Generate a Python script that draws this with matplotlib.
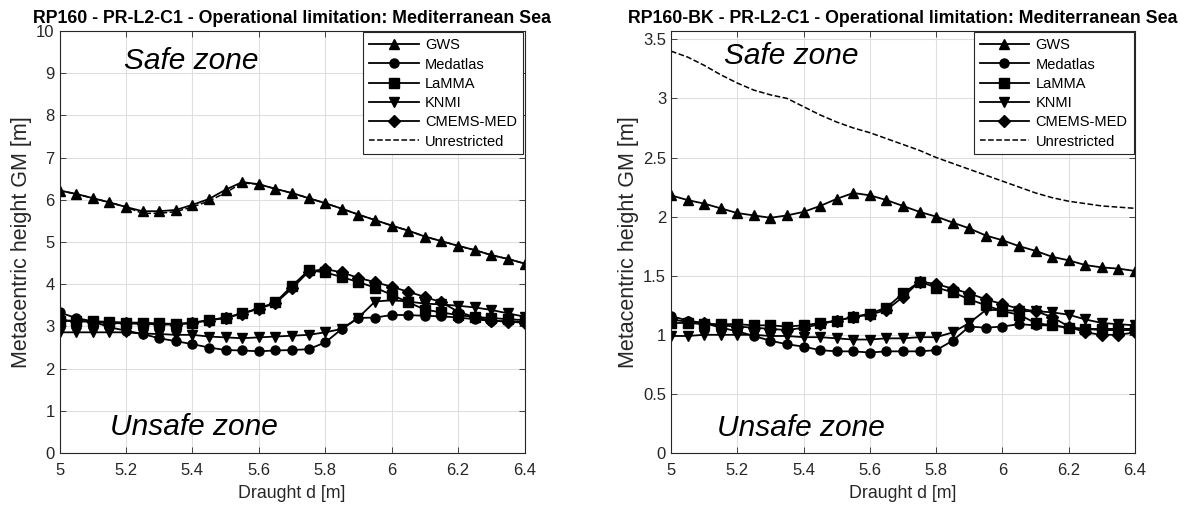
import matplotlib
matplotlib.use("Agg")
import matplotlib.pyplot as plt

plt.rcParams['font.family'] = ['Liberation Sans', 'DejaVu Sans']

# Calado (m), igual para todas las series
draught = [5.00, 5.05, 5.10, 5.15, 5.20, 5.25, 5.30, 5.35, 5.40, 5.45,
           5.50, 5.55, 5.60, 5.65, 5.70, 5.75, 5.80, 5.85, 5.90, 5.95,
           6.00, 6.05, 6.10, 6.15, 6.20, 6.25, 6.30, 6.35, 6.40]

# ---- RP160 (izquierda) ----
gws_a = [6.22, 6.14, 6.04, 5.94, 5.83, 5.73, 5.73, 5.76, 5.88, 6.02,
         6.24, 6.42, 6.37, 6.26, 6.16, 6.04, 5.92, 5.79, 5.65, 5.52,
         5.39, 5.27, 5.13, 5.02, 4.91, 4.81, 4.69, 4.60, 4.49]
medatlas_a = [3.33, 3.20, 3.12, 2.98, 2.90, 2.82, 2.72, 2.65, 2.58, 2.50,
              2.44, 2.43, 2.41, 2.43, 2.44, 2.46, 2.62, 2.94, 3.20, 3.21,
              3.27, 3.27, 3.25, 3.24, 3.21, 3.17, 3.13, 3.12, 3.11]
lamma_a = [3.13, 3.13, 3.12, 3.11, 3.09, 3.09, 3.07, 3.06, 3.09, 3.15,
           3.21, 3.31, 3.43, 3.57, 3.96, 4.33, 4.28, 4.17, 4.05, 3.92,
           3.75, 3.57, 3.40, 3.33, 3.27, 3.22, 3.20, 3.17, 3.15]
knmi_a = [2.86, 2.86, 2.86, 2.86, 2.86, 2.83, 2.82, 2.80, 2.80, 2.76,
          2.74, 2.72, 2.74, 2.76, 2.78, 2.80, 2.86, 2.94, 3.21, 3.59,
          3.62, 3.59, 3.54, 3.52, 3.49, 3.45, 3.39, 3.31, 3.23]
cmems_a = [3.15, 3.13, 3.10, 3.08, 3.07, 3.06, 3.05, 3.04, 3.08, 3.14,
           3.20, 3.30, 3.42, 3.55, 3.90, 4.30, 4.36, 4.28, 4.15, 4.05,
           3.94, 3.82, 3.70, 3.57, 3.35, 3.22, 3.14, 3.11, 3.09]
unrestr_a = [6.22, 6.14, 6.04, 5.94, 5.83, 5.68, 5.68, 5.72, 5.83, 5.97,
             6.17, 6.40, 6.37, 6.26, 6.16, 6.04, 5.92, 5.79, 5.65, 5.52,
             5.39, 5.27, 5.13, 5.02, 4.91, 4.81, 4.69, 4.60, 4.49]

# ---- RP160-BK (derecha) ----
gws_b = [2.18, 2.14, 2.11, 2.07, 2.03, 2.01, 1.99, 2.01, 2.04, 2.09,
         2.15, 2.20, 2.18, 2.14, 2.09, 2.04, 2.00, 1.95, 1.90, 1.84,
         1.80, 1.75, 1.71, 1.66, 1.63, 1.59, 1.57, 1.56, 1.54]
medatlas_b = [1.16, 1.12, 1.10, 1.06, 1.03, 0.99, 0.95, 0.92, 0.90, 0.87,
              0.86, 0.86, 0.85, 0.86, 0.86, 0.86, 0.87, 0.95, 1.07, 1.06,
              1.07, 1.09, 1.08, 1.08, 1.06, 1.05, 1.04, 1.04, 1.04]
lamma_b = [1.10, 1.10, 1.09, 1.09, 1.09, 1.08, 1.08, 1.07, 1.08, 1.10,
           1.12, 1.15, 1.18, 1.23, 1.35, 1.45, 1.40, 1.36, 1.30, 1.25,
           1.20, 1.17, 1.10, 1.08, 1.06, 1.05, 1.05, 1.05, 1.05]
knmi_b = [0.99, 0.99, 1.00, 1.00, 1.00, 1.00, 0.99, 0.99, 0.98, 0.98,
          0.97, 0.96, 0.96, 0.97, 0.97, 0.98, 0.98, 1.02, 1.10, 1.21,
          1.21, 1.20, 1.20, 1.19, 1.17, 1.13, 1.10, 1.09, 1.08]
cmems_b = [1.13, 1.11, 1.10, 1.08, 1.07, 1.06, 1.05, 1.04, 1.06, 1.09,
           1.12, 1.15, 1.17, 1.21, 1.32, 1.45, 1.43, 1.39, 1.35, 1.30,
           1.26, 1.22, 1.20, 1.15, 1.07, 1.02, 1.00, 1.00, 1.02]
unrestr_b = [3.40, 3.35, 3.28, 3.20, 3.13, 3.07, 3.03, 3.00, 2.93, 2.86,
             2.80, 2.75, 2.71, 2.66, 2.61, 2.56, 2.50, 2.45, 2.40, 2.35,
             2.30, 2.25, 2.20, 2.16, 2.13, 2.11, 2.09, 2.08, 2.07]

nombres = ["GWS", "Medatlas", "LaMMA", "KNMI", "CMEMS-MED", "Unrestricted"]
marcadores = ["^", "o", "s", "v", "D", None]


def dibujar(ax, series, titulo, ymax, yticks, ytlabels, safe_xy, unsafe_xy):
    for serie, nombre, mk in zip(series, nombres, marcadores):
        if mk is None:
            ax.plot(draught, serie, "k--", lw=1.1, label=nombre)
        else:
            ms = 7.2 if mk in ("^", "v") else (5.8 if mk == "D" else 6.5)
            ax.plot(draught, serie, color="k", lw=1.3, marker=mk, ms=ms,
                    label=nombre)
    ax.set_xlim(5, 6.4)
    ax.set_ylim(0, ymax)
    ax.set_xticks([5, 5.2, 5.4, 5.6, 5.8, 6, 6.2, 6.4])
    ax.set_xticklabels(["5", "5.2", "5.4", "5.6", "5.8", "6", "6.2", "6.4"])
    ax.set_yticks(yticks)
    ax.set_yticklabels(ytlabels)
    ax.grid(True, color="#dfdfdf", lw=0.8)
    ax.set_axisbelow(True)
    ax.tick_params(direction="in", top=True, right=True, labelsize=12,
                   colors="#262626", length=4, width=0.6)
    ax.tick_params(axis="x", pad=7)
    for s in ax.spines.values():
        s.set_color("#262626")
        s.set_linewidth(0.8)
    ax.set_title(titulo, fontsize=12.8, fontweight="bold", pad=6)
    ax.set_xlabel("Draught d [m]", fontsize=12.8, color="#262626", labelpad=5)
    ax.set_ylabel("Metacentric height GM [m]", fontsize=15.5, color="#262626",
                  labelpad=3)
    ax.text(safe_xy[0], safe_xy[1], "Safe zone", fontsize=21.5,
            style="italic", va="center", ha="left")
    ax.text(unsafe_xy[0], unsafe_xy[1], "Unsafe zone", fontsize=21.5,
            style="italic", va="center", ha="left")
    leg = ax.legend(loc="upper right", fontsize=10.5, fancybox=False,
                    edgecolor="#262626", framealpha=1, borderaxespad=0.1,
                    handlelength=3.4, labelspacing=0.36, borderpad=0.4,
                    handletextpad=0.45)
    leg.get_frame().set_linewidth(0.8)


fig = plt.figure(figsize=(11.88, 5.07), dpi=100)
ax1 = fig.add_axes([0.0501, 0.1065, 0.3914, 0.8323])
ax2 = fig.add_axes([0.5648, 0.1065, 0.3906, 0.8323])

dibujar(ax1, [gws_a, medatlas_a, lamma_a, knmi_a, cmems_a, unrestr_a],
        "RP160 - PR-L2-C1 - Operational limitation: Mediterranean Sea",
        10, list(range(11)), [str(i) for i in range(11)],
        (5.195, 9.3), (5.152, 0.62))
dibujar(ax2, [gws_b, medatlas_b, lamma_b, knmi_b, cmems_b, unrestr_b],
        "RP160-BK - PR-L2-C1 - Operational limitation: Mediterranean Sea",
        3.57, [0, 0.5, 1, 1.5, 2, 2.5, 3, 3.5],
        ["0", "0.5", "1", "1.5", "2", "2.5", "3", "3.5"],
        (5.16, 3.36), (5.139, 0.21))

fig.savefig("out.png", dpi=100)
